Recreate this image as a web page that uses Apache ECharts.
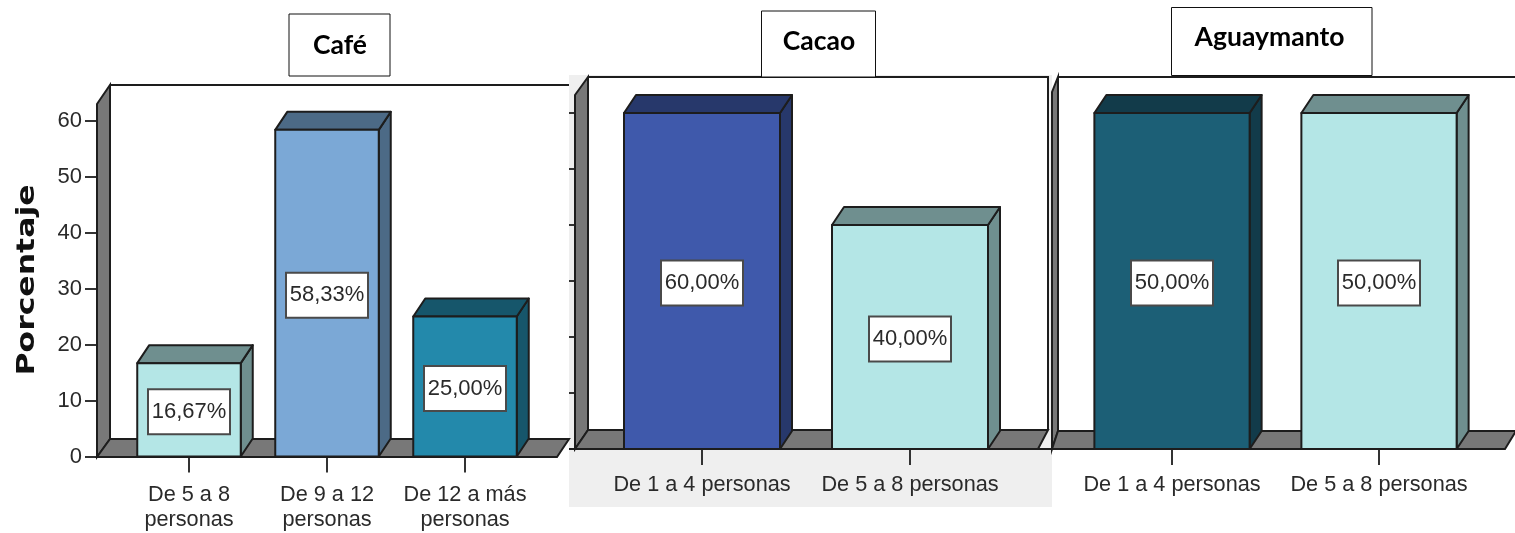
<!DOCTYPE html>
<html><head><meta charset="utf-8">
<style>html,body{margin:0;padding:0;background:#fff}#c{width:1515px;height:533px;filter:blur(0.35px)}</style>
<script src="https://cdn.jsdelivr.net/npm/echarts@6/dist/echarts.min.js"></script>
</head><body><div id="c"></div>
<script>
// ---- data ----
const cafeCategories = ['De 5 a 8\npersonas', 'De 9 a 12\npersonas', 'De 12 a más\npersonas'];
const cafeValues = [16.67, 58.33, 25.00];
const cacaoCategories = ['De 1 a 4 personas', 'De 5 a 8 personas'];
const cacaoValues = [60.00, 40.00];
const aguaymantoCategories = ['De 1 a 4 personas', 'De 5 a 8 personas'];
const aguaymantoValues = [50.00, 50.00];
const panelTitles = ['Café', 'Cacao', 'Aguaymanto'];
const yAxisName = 'Porcentaje';

// ---- colours ----
const cafeColors = [['#b4e6e6', '#6f8f8f'], ['#7ba8d6', '#4c6a86'], ['#2389ab', '#16566b']];
const cacaoColors = [['#3f59ab', '#27386b'], ['#b4e6e6', '#6f8f8f']];
const aguaColors = [['#1c5f76', '#123b4a'], ['#b4e6e6', '#6f8f8f']];

const INK = '#1d1d1d', WALL = '#787878', TXT = '#2a2a2a';
const SANS = '"Liberation Sans",Arial,sans-serif';
const DX = 12, DY = 18;

const panels = [
  {cats: cafeCategories, vals: cafeValues, cols: cafeColors, grid: {left: 120, width: 414, top: 120.5, height: 336},
   yMax: 60, yOffset: 23, yLabels: true, yShow: true, tick: 12, margin: 26,
   frame: {fl: 97, bl: 110, br: 569, fr: 557, top: 85, back: 439, front: 457, topL: 104, right: false}},
  {cats: cacaoCategories, vals: cacaoValues, cols: cacaoColors, grid: {left: 598, width: 416, top: 113, height: 336},
   yMax: 60, yOffset: 23, yLabels: false, yShow: true, tick: 6, margin: 24,
   frame: {fl: 575, bl: 588, br: 1048, fr: 1038, top: 77, back: 430, front: 449, topL: 95, right: true}},
  {cats: aguaymantoCategories, vals: aguaymantoValues, cols: aguaColors, grid: {left: 1068.5, width: 414, top: 113, height: 336},
   yMax: 50, yOffset: 0, yLabels: false, yShow: false, tick: 6, margin: 24,
   frame: {fl: 1052, bl: 1058, br: 1516, fr: 1505, top: 77, back: 431, front: 449, topL: 92, right: false}}
];
const titleBoxes = [
  {x: 289, y: 14, w: 101, h: 62, tx: 340, ty: 45},
  {x: 761.5, y: 11, w: 114, h: 66, tx: 819, ty: 41.5},
  {x: 1171.5, y: 7.5, w: 200.5, h: 68, tx: 1269.5, ty: 37.5}
];

const pct = v => v.toFixed(2).replace('.', ',') + '%';

function renderBar(cols) {
  return function (params, api) {
    const i = api.value(0), v = api.value(1);
    const base = api.coord([i, 0]), topP = api.coord([i, v]);
    const w = api.size([1, 0])[0] * 0.75;
    const x0 = base[0] - w / 2, x1 = base[0] + w / 2, yT = topP[1], yB = base[1];
    const c = cols[params.dataIndex];
    const stroke = {stroke: INK, lineWidth: 2, lineJoin: 'round'};
    const midY = (yT + yB) / 2 + 2;
    return {type: 'group', children: [
      {type: 'polygon', shape: {points: [[x1, yT], [x1 + DX, yT - DY], [x1 + DX, yB - DY], [x1, yB]]}, style: {fill: c[1], ...stroke}},
      {type: 'polygon', shape: {points: [[x0, yT], [x0 + DX, yT - DY], [x1 + DX, yT - DY], [x1, yT]]}, style: {fill: c[1], ...stroke}},
      {type: 'rect', shape: {x: x0, y: yT, width: w, height: yB - yT}, style: {fill: c[0], ...stroke}},
      {type: 'rect', shape: {x: base[0] - 41, y: midY - 22.5, width: 82, height: 45},
       style: {fill: '#fff', stroke: '#4a4a4a', lineWidth: 2}},
      {type: 'text', style: {x: base[0], y: midY, text: pct(v), align: 'center', verticalAlign: 'middle',
        font: '22px ' + SANS, fill: TXT}}
    ]};
  };
}

const graphics = [];
graphics.push({type: 'rect', z: 0, shape: {x: 569, y: 75, width: 483, height: 432}, style: {fill: '#efefef'}});
panels.forEach(p => {
  const f = p.frame;
  graphics.push({type: 'rect', z: 0, shape: {x: f.bl, y: f.top, width: f.br - f.bl, height: f.back - f.top}, style: {fill: '#fff'}});
  graphics.push({type: 'polyline', z: 1, shape: {points: f.right
      ? [[f.bl, f.top], [f.br, f.top], [f.br, f.back]]
      : [[f.bl, f.top], [f.br, f.top]]}, style: {fill: 'none', stroke: INK, lineWidth: 2}});
  graphics.push({type: 'polygon', z: 1, shape: {points: [[f.fl, f.topL], [f.bl, f.top], [f.bl, f.back], [f.fl, f.front]]}, style: {fill: WALL, stroke: INK, lineWidth: 2}});
  graphics.push({type: 'polygon', z: 1, shape: {points: [[f.fl, f.front], [f.bl, f.back], [f.br, f.back], [f.fr, f.front]]}, style: {fill: WALL, stroke: INK, lineWidth: 2}});
});
graphics.push({type: 'line', z: 1, shape: {x1: 569, y1: 449, x2: 1052, y2: 449}, style: {stroke: INK, lineWidth: 2}});
titleBoxes.forEach((b, i) => {
  graphics.push({type: 'rect', z: 5, shape: {x: b.x, y: b.y, width: b.w, height: b.h}, style: {fill: '#fff', stroke: '#111', lineWidth: 1}});
  graphics.push({type: 'text', z: 6, style: {x: b.tx, y: b.ty, text: panelTitles[i], align: 'center', verticalAlign: 'middle',
    font: 'bold 26.5px Lato, "Open Sans", sans-serif', fill: '#000'}});
});
graphics.push({type: 'text', z: 6, rotation: Math.PI / 2, x: 27, y: 280, scaleX: 1.26, style: {x: 0, y: 0, text: yAxisName, align: 'center', verticalAlign: 'middle',
  font: 'bold 25px "DejaVu Sans", sans-serif', fill: '#111'}});

const option = {
  animation: false,
  backgroundColor: '#fff',
  graphic: {elements: graphics},
  grid: panels.map(p => ({...p.grid, containLabel: false})),
  xAxis: panels.map((p, i) => ({
    type: 'category', gridIndex: i, data: p.cats,
    axisLine: {show: false},
    axisTick: {show: true, alignWithLabel: true, length: 16, lineStyle: {color: '#333', width: 2}},
    axisLabel: {interval: 0, margin: p.margin, lineHeight: 25, fontSize: 21.7, fontFamily: SANS, color: TXT}
  })),
  yAxis: panels.map((p, i) => ({
    type: 'value', gridIndex: i, min: 0, max: p.yMax, interval: 10, show: p.yShow, offset: p.yOffset,
    axisLine: {show: false},
    axisTick: {show: true, length: p.tick, lineStyle: {color: '#333', width: 2}},
    splitLine: {show: false},
    axisLabel: {show: p.yLabels, margin: 15, fontSize: 22, fontFamily: SANS, color: TXT}
  })),
  series: panels.map((p, i) => ({
    type: 'custom', xAxisIndex: i, yAxisIndex: i, z: 3, clip: false,
    encode: {x: 0, y: 1},
    data: p.vals.map((v, k) => [k, v]),
    renderItem: renderBar(p.cols)
  }))
};
echarts.init(document.getElementById('c')).setOption(option);
</script></body></html>
